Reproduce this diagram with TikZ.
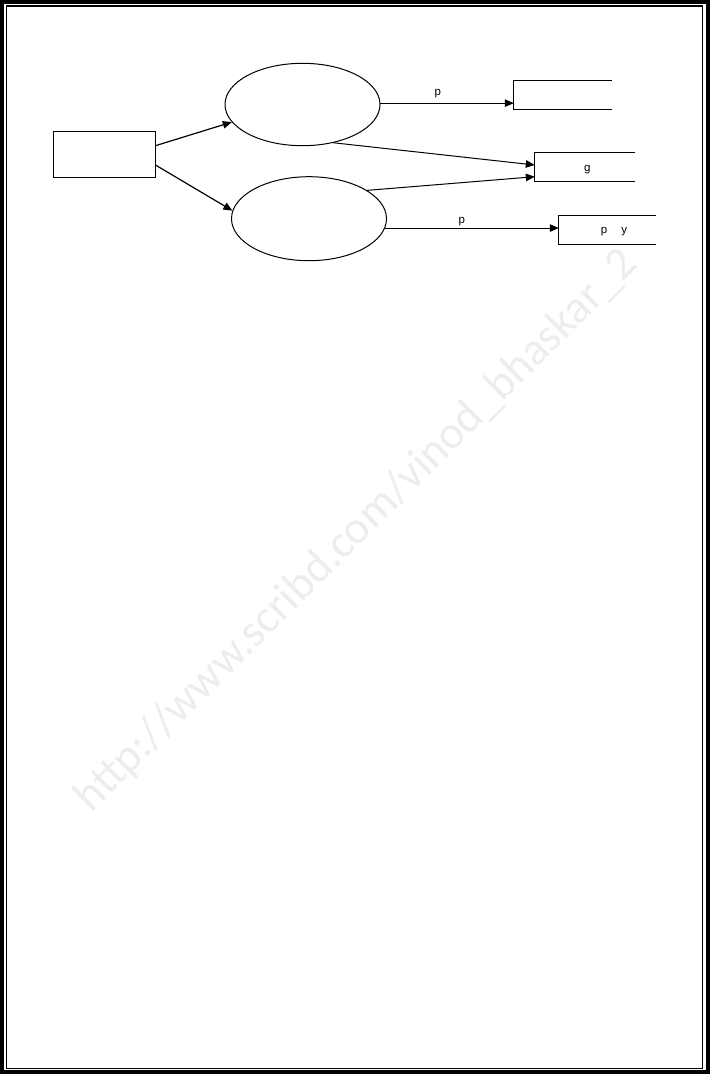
\documentclass[tikz,border=0pt]{standalone}
\usepackage{fontspec}
\setmainfont{Liberation Sans}
\newfontfamily\wmfont{Carlito}
\usetikzlibrary{arrows.meta,shapes.geometric}
\begin{document}
\begin{tikzpicture}[x=1pt,y=-1pt,
  proc/.style={ellipse,draw,line width=1pt,inner sep=0pt},
  entity/.style={rectangle,draw,line width=0.9pt,inner sep=0pt},
  store/.style={rectangle,inner sep=0pt},
  storeline/.style={line width=1pt},
  flow/.style={line width=1.2pt,-{Triangle[length=9pt,width=7.5pt]}},
  thinflow/.style={line width=1pt,-{Triangle[length=9pt,width=7.5pt]}},
  lbl/.style={font=\fontsize{11.5}{13}\selectfont,inner sep=0pt,anchor=base},
  frameout/.style={line width=4pt},
  framein/.style={line width=1.3pt}]
\useasboundingbox (0,0) rectangle (710,1074);
% watermark
\node[rotate=45,anchor=base,text=black!7,font=\wmfont\fontsize{46}{50}\selectfont,inner sep=0pt] (wm) at (365,540) {http://www.scribd.com/vinod\_bhaskar\_2};
% page frame
\draw[frameout] (2,2) rectangle (708,1072);
\draw[framein] (6.3,6) rectangle (702.7,1068.3);
% nodes
\node[entity, minimum width=102pt, minimum height=46pt] (src) at (104,154) {};
\node[proc, minimum width=155pt, minimum height=82.4pt] (p1) at (302.5,104.5) {};
\node[proc, minimum width=155pt, minimum height=84pt] (p2) at (309,218.7) {};
\node[store, minimum width=97.7pt, minimum height=28.6pt] (d1) at (562.85,95) {};
\node[store, minimum width=100pt, minimum height=29pt] (d2) at (585,166.8) {};
\node[store, minimum width=97pt, minimum height=29pt] (d3) at (607.5,229.8) {};
\draw[storeline] (d1.north east) -- (d1.north west) -- (d1.south west) -- (d1.south east);
\draw[storeline] (d2.north east) -- (d2.north west) -- (d2.south west) -- (d2.south east);
\draw[storeline] (d3.north east) -- (d3.north west) -- (d3.south west) -- (d3.south east);
% labels
\node[lbl] (l1) at (437.7,95) {p};
\node[lbl] (l2) at (461.7,223) {p};
\node[lbl] (lg) at (587.3,171.5) {g};
\node[lbl] (lpy) at (614,233.5) {p\hspace{14pt}y};
% connectors
\draw[flow] ([yshift=8.3pt]src.east) -- (p1.194);
\draw[flow] ([yshift=-11pt]src.east) -- (p2.174);
\draw[thinflow] (p1.1) -- (p1.1 -| d1.west);
\draw[thinflow] (p1.-51) -- ([yshift=1.8pt]d2.west);
\draw[thinflow] (p2.26) -- ([yshift=-9.9pt]d2.west);
\draw[thinflow] (p2.-7) -- (p2.-7 -| d3.west);
\end{tikzpicture}
\end{document}
